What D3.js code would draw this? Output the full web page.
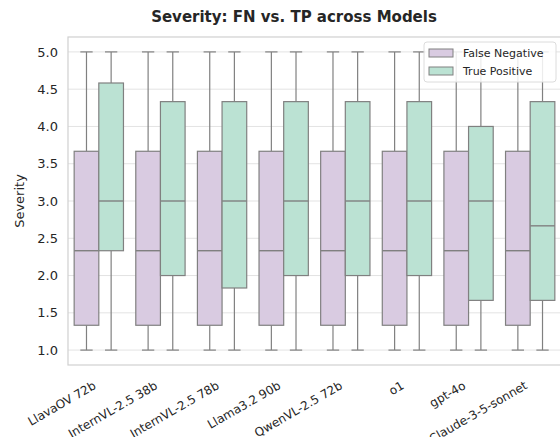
<!DOCTYPE html>
<html><head><meta charset="utf-8">
<script src="https://cdn.jsdelivr.net/npm/d3@7"></script>
<style>body{margin:0;background:#fff}text{font-family:"DejaVu Sans",sans-serif}</style>
</head><body><svg id="c" width="560" height="437"></svg>
<script>
const models = ["LlavaOV 72b","InternVL-2.5 38b","InternVL-2.5 78b","Llama3.2 90b","QwenVL-2.5 72b","o1","gpt-4o","Claude-3-5-sonnet"];
const seriesNames = ["False Negative","True Positive"];
const colors = ["#d9cbe1","#bbe2d3"];
// [whiskerLow, Q1, median, Q3, whiskerHigh]
const fnStats = [
  [1,1.333,2.333,3.667,5],[1,1.333,2.333,3.667,5],[1,1.333,2.333,3.667,5],[1,1.333,2.333,3.667,5],
  [1,1.333,2.333,3.667,5],[1,1.333,2.333,3.667,5],[1,1.333,2.333,3.667,5],[1,1.333,2.333,3.667,5]];
const tpStats = [
  [1,2.333,3,4.583,5],[1,2,3,4.333,5],[1,1.833,3,4.333,5],[1,2,3,4.333,5],
  [1,2,3,4.333,5],[1,2,3,4.333,5],[1,1.667,3,4,5],[1,1.667,2.667,4.333,5]];
const yTicks = [1.0,1.5,2.0,2.5,3.0,3.5,4.0,4.5,5.0];

const svg = d3.select("#c");
const L=68, R=561, T=37, B=365;
const x = d3.scaleBand().domain(models).range([L,R]).paddingInner(0).paddingOuter(0);
const y = d3.scaleLinear().domain([0.8,5.2]).range([B,T]);
const xs = d3.scaleBand().domain(seriesNames).range([0, x.bandwidth()*0.8]);

// grid
svg.append("g").selectAll("line").data(yTicks).join("line")
  .attr("x1",L).attr("x2",R).attr("y1",d=>y(d)).attr("y2",d=>y(d))
  .attr("stroke","#e3e3e3").attr("stroke-width",1);
// spines
svg.append("rect").attr("x",L).attr("y",T).attr("width",R-L).attr("height",B-T)
  .attr("fill","none").attr("stroke","#d0d0d0").attr("stroke-width",1.2);

// y axis
const ya = svg.append("g").attr("transform",`translate(${L},0)`)
  .call(d3.axisLeft(y).tickValues(yTicks).tickFormat(d3.format(".1f")).tickSize(0).tickPadding(10));
ya.select(".domain").remove();
ya.selectAll("text").attr("font-size","13px").attr("fill","#262626").attr("font-family","DejaVu Sans");

// x axis
const xa = svg.append("g").attr("transform",`translate(0,${B})`)
  .call(d3.axisBottom(x).tickSize(0).tickPadding(0));
xa.select(".domain").remove();
xa.selectAll("text").attr("font-size","12px").attr("fill","#262626").attr("font-family","DejaVu Sans")
  .attr("text-anchor","end").attr("x",0).attr("y",0).attr("dy",0)
  .attr("transform","translate(-2,23) rotate(-30)");

const edge="#808080";
function drawSeries(stats, si){
  const g = svg.append("g");
  stats.forEach((s,i)=>{
    const x0 = x(models[i]) + x.bandwidth()*0.1 + xs(seriesNames[si]);
    const w = xs.bandwidth();
    const cx = x0 + w/2;
    const gg = g.append("g");
    gg.append("line").attr("x1",cx).attr("x2",cx).attr("y1",y(s[0])).attr("y2",y(s[1])).attr("stroke",edge).attr("stroke-width",1.2);
    gg.append("line").attr("x1",cx).attr("x2",cx).attr("y1",y(s[3])).attr("y2",y(s[4])).attr("stroke",edge).attr("stroke-width",1.2);
    gg.append("line").attr("x1",cx-w/4).attr("x2",cx+w/4).attr("y1",y(s[0])).attr("y2",y(s[0])).attr("stroke",edge).attr("stroke-width",1.2);
    gg.append("line").attr("x1",cx-w/4).attr("x2",cx+w/4).attr("y1",y(s[4])).attr("y2",y(s[4])).attr("stroke",edge).attr("stroke-width",1.2);
    gg.append("rect").attr("x",x0).attr("width",w).attr("y",y(s[3])).attr("height",y(s[1])-y(s[3]))
      .attr("fill",colors[si]).attr("stroke",edge).attr("stroke-width",1.2);
    gg.append("line").attr("x1",x0).attr("x2",x0+w).attr("y1",y(s[2])).attr("y2",y(s[2])).attr("stroke",edge).attr("stroke-width",1.4);
  });
}
drawSeries(fnStats,0);
drawSeries(tpStats,1);

// title
svg.append("text").attr("x",294).attr("y",22).attr("text-anchor","middle")
  .attr("font-size","15px").attr("font-weight","bold").attr("fill","#262626")
  .text("Severity: FN vs. TP across Models");
// y label
svg.append("text").attr("transform",`translate(24,${(T+B)/2}) rotate(-90)`).attr("text-anchor","middle")
  .attr("font-size","13px").attr("fill","#262626").text("Severity");

// legend
const lg = svg.append("g");
lg.append("rect").attr("x",424).attr("y",42).attr("width",132).attr("height",40).attr("rx",3)
  .attr("fill","#fff").attr("fill-opacity",0.85).attr("stroke","#dcdcdc");
seriesNames.forEach((n,i)=>{
  const yy = 53 + i*18;
  lg.append("rect").attr("x",429).attr("y",yy-4).attr("width",24).attr("height",8)
    .attr("fill",colors[i]).attr("stroke",edge).attr("stroke-width",1);
  lg.append("text").attr("x",463).attr("y",yy).attr("dy","0.35em").attr("font-size","11px").attr("fill","#262626").text(n);
});
</script></body></html>
